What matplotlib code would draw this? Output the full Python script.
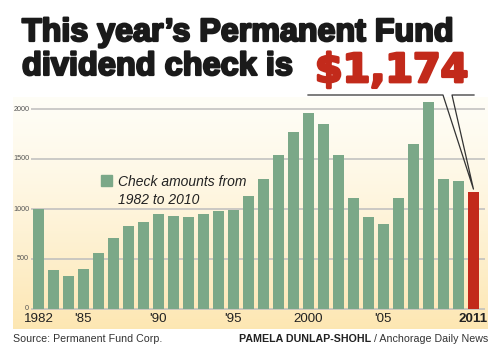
import numpy as np
import matplotlib
matplotlib.use("Agg")
import matplotlib.pyplot as plt
import matplotlib.patheffects as pe
from matplotlib.lines import Line2D
from matplotlib.patches import Rectangle

# ── data ─────────────────────────────────────────────────────────────────────
years = list(range(1982, 2012))
amounts = [1000, 386, 331, 404, 556, 708, 827, 873, 953, 931,
           916, 949, 984, 990, 1131, 1297, 1541, 1770, 1964, 1850,
           1541, 1108, 920, 846, 1107, 1654, 2069, 1305, 1281, 1174]
yticks = [0, 500, 1000, 1500, 2000]
xtick_idx = [0, 3, 8, 13, 18, 23, 29]
xtick_labels = ["1982", "'85", "'90", "'95", "2000", "'05", "2011"]
legend_lines = ["Check amounts from", "1982 to 2010"]

GREEN = "#7ba888"
RED = "#c22a1b"
INK = "#1a1a1a"
W, H = 500, 353


def fx(x):  # pixel -> figure fraction
    return x / W


def fy(y):
    return 1 - y / H


def heavy(c, w=1.6):
    return [pe.Stroke(linewidth=w, foreground=c), pe.Normal()]


fig = plt.figure(figsize=(5, 3.53), dpi=100)
fig.patch.set_facecolor("white")

# panel axes (13..488 px wide, 97..329 px tall)
ax = fig.add_axes([fx(13), fy(329), fx(488) - fx(13), fy(97) - fy(329)])
ax.set_xlim(-1.7, 29.97)
ax.set_ylim(-200, 2120)
ax.axis("off")

# background gradient, cream at top to warm yellow at bottom
grad = np.linspace(0, 1, 256)[:, None]
top = np.array([1.0, 0.993, 0.965])
bot = np.array([0.992, 0.905, 0.70])
img = top + (bot - top) * grad[..., None] ** 1.3
ax.imshow(img, extent=[-1.7, 29.97, -200, 2120], aspect="auto",
          origin="upper", zorder=0)

ax.hlines(yticks, -0.5, 29.78, color="#bdbdbd", lw=1.1, zorder=1)

x = np.arange(len(years))
colors = [GREEN] * (len(years) - 1) + [RED]
ax.bar(x, amounts, width=0.74, color=colors, zorder=2)

for v in yticks:
    ax.text(-0.62, v, str(v), fontsize=5.2, color="#555555", ha="right",
            va="center", family="Liberation Sans")

for i, lab in zip(xtick_idx, xtick_labels):
    bold = lab == "2011"
    ax.text(i, -95, lab, fontsize=9.6, ha="center", va="center", color="#222222",
            family="Liberation Sans", fontweight="bold" if bold else "normal")

# legend
ax.add_patch(Rectangle((4.17, 1230), 0.75, 110, color=GREEN, zorder=3))
for k, line in enumerate(legend_lines):
    ax.text(5.3, 1230 - 180 * k, line, fontsize=10, style="italic",
            va="baseline", ha="left", color="#222222", family="Liberation Sans")

# title
fig.text(fx(22), fy(41), "This year\u2019s Permanent Fund", fontsize=23.2,
         fontweight="bold", family="Liberation Sans", color=INK,
         ha="left", va="baseline", path_effects=heavy(INK))
fig.text(fx(22), fy(75), "dividend check is", fontsize=23.4,
         fontweight="bold", family="Liberation Sans", color=INK,
         ha="left", va="baseline", path_effects=heavy(INK))
fig.text(fx(315), fy(82), "$1,174", fontsize=28.6,
         fontweight="bold", family="DejaVu Sans", color=RED,
         ha="left", va="baseline", path_effects=heavy(RED, 2.0))

# callout pointing from the headline figure to the 2011 bar
fig.canvas.draw()
tx, ty = ax.transData.transform((x[-1], amounts[-1] + 25))
bx, by = fig.transFigure.inverted().transform((tx, ty))
pts_x = [fx(308), fx(443), bx, fx(452), fx(474)]
pts_y = [fy(95), fy(95), by, fy(95), fy(95)]
fig.add_artist(Line2D(pts_x, pts_y, color="#333333", lw=0.9,
                      transform=fig.transFigure))

# footer
fig.text(fx(13), fy(339), "Source: Permanent Fund Corp.", fontsize=7.7,
         color="#333333", family="Liberation Sans", ha="left", va="center")
credit = fig.text(fx(488), fy(339), " / Anchorage Daily News", fontsize=7.7,
                  color="#333333", family="Liberation Sans", ha="right",
                  va="center")
fig.canvas.draw()
bb = credit.get_window_extent()
cx = fig.transFigure.inverted().transform((bb.x0, 0))[0]
fig.text(cx, fy(339), "PAMELA DUNLAP-SHOHL", fontsize=7.7,
         fontweight="bold", color="#222222", family="Liberation Sans",
         ha="right", va="center")

fig.savefig("out.png", dpi=100)
